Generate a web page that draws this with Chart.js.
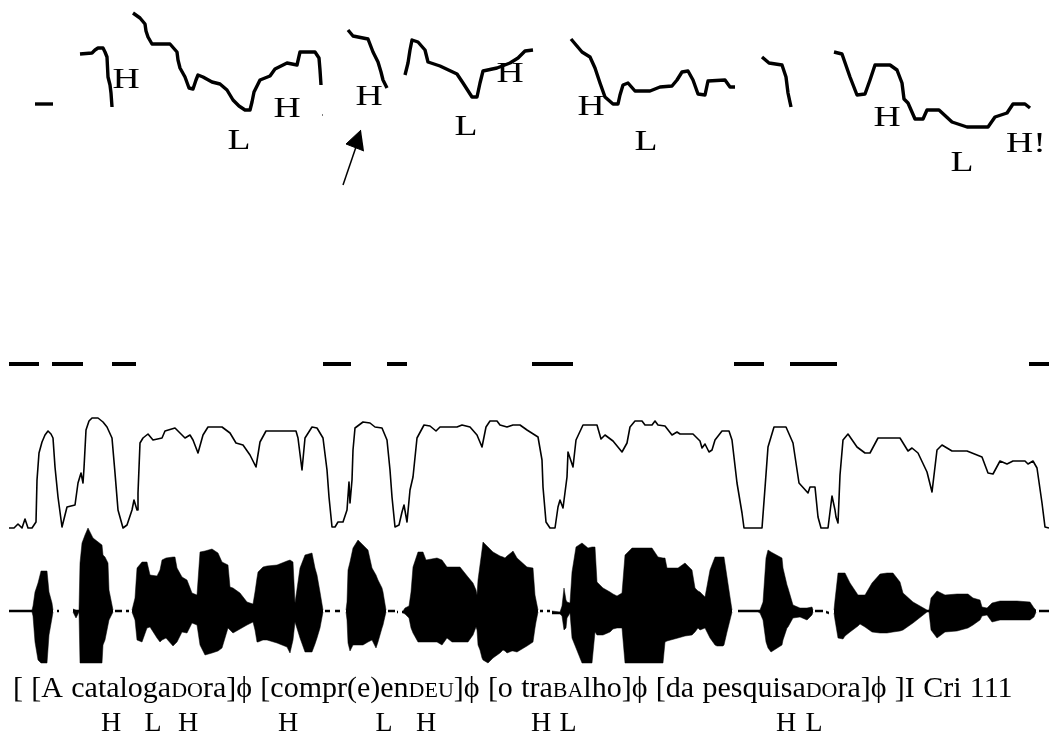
<!DOCTYPE html>
<html>
<head>
<meta charset="utf-8">
<style>
  html, body { margin: 0; padding: 0; background: #fff; }
  canvas { display: block; }
</style>
<script src="https://cdn.jsdelivr.net/npm/chart.js@4"></script>
</head>
<body>
<canvas id="prosody" width="1049" height="736"></canvas>
<script>
/*------------------------ pitch track ---------------------------*/
const pitchLeft = [[35, 104], [53, 104]];
const pitch1 = [[80,54],[92,53],[95,50],[98,48],[103,48],[105,52],[107,57],[108,77],[110,85],[111,93],[112,107]];
const pitch2 = [[133,13],[140,18],[145,24],[146,31],[148,37],[152,44],[170,44],[177,52],[178,60],[180,68],[185,77],[189,88],[193,89],[196,80],[198,75],[203,77],[212,82],[220,84],[227,90],[233,100],[239,106],[245,110],[250,110],[252,102],[254,92],[260,80],[270,76],[275,69],[287,63],[297,65],[300,52],[315,52],[319,58],[320,70],[321,85]];
const pitch3 = [[348,30],[353,36],[368,39],[373,52],[378,62],[381,72],[383,80],[387,88]];
const pitch4 = [[405,75],[408,63],[410,50],[412,40],[418,42],[425,50],[428,62],[440,66],[457,74],[463,83],[472,97],[477,97],[480,83],[483,71],[497,68],[510,63],[518,58],[525,51],[533,50]];
const pitch5 = [[571,39],[582,52],[590,57],[595,68],[600,83],[605,97],[613,104],[618,104],[620,95],[623,85],[628,83],[635,91],[650,91],[660,87],[672,86],[677,80],[682,72],[688,71],[693,80],[698,94],[705,95],[708,81],[725,80],[730,87],[735,87]];
const pitch6 = [[762,57],[769,63],[782,65],[786,77],[788,93],[791,107]];
const pitch7 = [[834,52],[842,54],[850,77],[857,95],[865,94],[870,80],[875,65],[890,65],[897,70],[902,83],[904,99],[908,103],[915,119],[923,119],[927,110],[939,110],[952,122],[967,127],[988,127],[995,117],[1007,113],[1013,104],[1025,104],[1030,108]];
const pitchSpeck = [[322,115],[323,115]];

const toneNames = ["H", "H", "L", "H", "L", "H", "H", "L", "H", "L", "H!"];
const toneX = [126, 287, 239, 369, 466, 510, 591, 646, 887, 962, 1026];
const toneY = [78, 107, 139, 95, 125, 72, 105, 140, 116, 161, 142];

const arrowShaft = [[343,185],[356,147]];
const arrowHead = [[361,130],[346,144],[364,151]];

/*------------------------ voicing dashes ------------------------*/
const dashStart = [9, 52, 112, 323, 387, 532, 734, 790, 1029];
const dashEnd = [39, 83, 136, 351, 407, 573, 764, 837, 1049];
const dashY = 364;

/*------------------------ amplitude contour ---------------------*/
const envelope = [[9,528],[14,528],[18,524],[22,528],[25,519],[28,528],[32,528],[36,522],[37,480],[39,453],[42,442],[45,435],[48,431],[51,434],[53,438],[55,467],[58,497],[62,527],[67,507],[75,505],[78,483],[81,473],[83,483],[84,468],[86,430],[89,421],[92,418],[98,418],[103,422],[107,427],[112,438],[115,473],[118,510],[123,528],[127,525],[132,510],[134,500],[137,510],[138,493],[140,443],[143,438],[148,434],[153,440],[162,438],[165,431],[175,428],[185,438],[190,435],[193,440],[198,453],[203,435],[208,427],[222,427],[230,433],[236,443],[243,445],[250,455],[256,467],[260,442],[266,431],[296,431],[298,438],[302,470],[305,438],[312,427],[317,428],[323,438],[327,470],[329,497],[332,527],[335,527],[338,522],[343,522],[347,510],[349,482],[350,503],[352,480],[353,450],[355,428],[363,422],[370,423],[375,427],[382,428],[387,440],[390,470],[392,497],[395,527],[399,525],[402,512],[404,505],[407,522],[410,490],[413,477],[417,438],[424,425],[430,426],[436,431],[440,427],[457,427],[462,425],[470,427],[477,435],[482,447],[486,427],[490,421],[497,421],[500,425],[507,427],[513,425],[520,425],[527,430],[538,437],[542,460],[543,487],[546,522],[550,528],[555,528],[558,507],[560,500],[563,508],[567,477],[568,452],[573,467],[576,440],[583,425],[597,425],[601,439],[605,435],[613,441],[622,452],[627,443],[630,427],[635,421],[642,421],[645,425],[652,425],[655,421],[658,425],[665,426],[672,435],[677,432],[680,434],[693,434],[700,441],[702,448],[705,444],[709,452],[712,450],[715,440],[722,431],[729,431],[732,440],[737,483],[742,513],[744,528],[762,528],[765,488],[768,447],[774,427],[786,427],[793,443],[799,483],[808,493],[810,487],[815,487],[818,517],[821,528],[828,528],[832,496],[835,510],[836,517],[838,523],[840,475],[843,440],[848,434],[857,447],[865,453],[870,453],[878,438],[900,438],[908,451],[912,448],[918,453],[927,472],[932,492],[937,450],[942,445],[952,451],[967,451],[982,457],[988,473],[993,474],[1000,461],[1007,464],[1013,461],[1025,461],[1028,464],[1033,461],[1037,468],[1042,503],[1045,527],[1049,528]];

/*------------------------ waveform: [x, top, bottom] -------------*/
const wave = [
  [9,610,612],[32,610,612],[33,606,616],[35,592,642],[38,583,660],[41,571,663],[47,571,663],[49,592,635],[52,603,618],[53,610,612],[54,null,null],
  [57,610,612],[59,610,612],[60,null,null],
  [73,609,612],[76,610,618],[79,610,612],[80,563,663],[82,543,663],[85,535,663],[88,528,663],[93,538,663],[102,545,663],[103,555,645],[105,557,640],[108,563,625],[109,590,620],[113,610,612],[114,null,null],
  [115,610,612],[122,610,612],[123,null,null],[126,610,612],[129,610,612],[130,null,null],
  [132,610,612],[135,598,620],[137,568,640],[142,562,642],[147,562,628],[150,575,627],[157,576,638],[160,570,642],[162,560,640],[166,558,638],[173,557,646],[175,557,644],[177,568,642],[182,577,632],[187,580,633],[192,593,623],[197,595,625],[200,552,645],[205,551,655],[212,549,653],[218,553,651],[222,562,648],[228,565,628],[230,587,630],[233,588,633],[240,593,629],[247,602,625],[253,604,622],[255,592,630],[257,578,642],[258,572,642],[263,567,640],[267,566,640],[277,565,643],[287,561,647],[290,560,653],[293,562,640],[295,603,622],[300,568,638],[305,555,652],[312,553,652],[315,568,644],[317,575,638],[320,592,628],[323,610,612],[324,null,null],
  [325,610,612],[330,610,612],[331,null,null],[335,610,612],[340,610,612],[341,null,null],
  [346,610,612],[347,602,620],[348,570,643],[350,562,651],[353,548,645],[358,540,645],[363,545,645],[368,550,642],[372,568,640],[376,575,648],[378,580,642],[382,588,628],[383,592,625],[386,610,612],[387,null,null],
  [388,610,612],[395,610,612],[396,null,null],[397,611,613],[398,611,613],[399,null,null],[402,611,613],[403,611,613],
  [405,608,614],[409,606,618],[411,592,628],[413,567,633],[418,552,642],[423,552,642],[426,560,642],[437,558,642],[442,560,645],[447,567,638],[452,567,642],[460,567,642],[468,577,642],[473,583,635],[476,590,627],[477,595,630],[478,580,645],[480,565,650],[482,550,658],[483,542,660],[488,547,663],[493,552,658],[500,556,653],[503,557,650],[505,558,651],[507,556,653],[512,552,651],[513,551,651],[517,558,652],[527,567,646],[533,568,642],[535,595,628],[536,600,622],[538,610,612],[539,null,null],
  [540,610,612],[543,610,612],[544,null,null],[547,610,612],[550,610,612],[551,null,null],[552,611,614],[560,612,614],
  [562,606,616],[564,588,630],[566,600,628],[567,602,618],[570,603,613],[572,572,638],[576,547,648],[582,543,663],[588,548,663],[592,547,663],[595,547,632],[597,582,635],[603,588,635],[610,592,632],[613,594,629],[617,596,628],[622,593,628],[625,555,663],[632,548,663],[652,548,663],[658,557,663],[663,558,663],[665,558,642],[667,568,641],[678,568,638],[685,563,636],[692,570,635],[695,588,632],[698,591,628],[700,592,630],[705,597,628],[710,570,638],[715,557,645],[717,557,646],[723,557,646],[724,557,645],[727,577,632],[730,597,620],[732,610,612],[733,null,null],
  [738,610,612],[758,610,612],[760,610,613],[763,602,620],[766,558,642],[768,550,648],[771,552,652],[782,558,645],[783,568,640],[787,585,628],[788,588,627],[793,605,618],[800,608,617],[807,608,620],[812,607,615],[813,610,612],[814,null,null],
  [815,610,612],[823,610,612],[824,null,null],[826,611,613],[829,612,614],[830,null,null],
  [834,610,613],[835,600,620],[838,573,638],[843,573,639],[845,573,636],[850,583,632],[858,595,626],[860,595,624],[865,595,627],[872,583,632],[880,574,633],[887,573,633],[893,573,632],[900,582,631],[903,593,630],[913,602,623],[927,610,612],
  [929,610,612],[931,598,630],[937,591,638],[945,595,632],[957,594,631],[968,594,628],[973,598,625],[980,600,620],[982,607,616],[987,608,615],[992,603,622],[1000,601,620],[1017,601,620],[1030,602,620],[1034,608,617],[1036,610,612],[1037,null,null],
  [1039,610,612],[1049,610,612]
];
const waveX = wave.map(function (r) { return r[0]; });
const waveTop = wave.map(function (r) { return r[1]; });
const waveBottom = wave.map(function (r) { return r[2]; });

/*------------------------ transcription --------------------------*/
const lineRuns = [
  ["[ [A cataloga", false], ["DO", true], ["ra]\u03D5 [compr(e)en", false], ["DEU", true],
  ["]\u03D5 [o tra", false], ["BA", true], ["lho]\u03D5 [da pesquisa", false], ["DO", true], ["ra]\u03D5 ]I Cri 111", false]
];
const lineX = 13;
const lineY = 697;
const gridTones = ["H", "L", "H", "H", "L", "H", "H", "L", "H", "L"];
const gridX = [111, 153, 188, 288, 384, 426, 541, 568, 786, 814];
const gridY = 731;

function pts(list) {
    return list.map(function (p) { return { x: p[0], y: p[1] }; });
}

function trace(list, width) {
    return {
        data: pts(list),
        borderColor: "#000",
        borderWidth: width,
        pointRadius: 0,
        borderJoinStyle: "round",
        borderCapStyle: "butt",
        fill: false,
        tension: 0
    };
}

const datasets = [];
[pitchLeft, pitch1, pitch2, pitch3, pitch4, pitch5, pitch6, pitch7].forEach(function (seg) {
    datasets.push(trace(seg, 3.4));
});
datasets.push(trace(pitchSpeck, 1));
datasets.push(trace(arrowShaft, 1.5));
datasets.push(Object.assign(trace(arrowHead, 1), { fill: "shape", backgroundColor: "#000" }));
dashStart.forEach(function (s, i) {
    datasets.push(trace([[s, dashY], [dashEnd[i], dashY]], 4));
});
datasets.push(trace(envelope, 1.6));

// the two waveform edges, filled between
datasets.push({
    data: waveX.map(function (x, i) { return { x: x, y: waveTop[i] }; }),
    borderColor: "#000", borderWidth: 0.5, pointRadius: 0, tension: 0,
    backgroundColor: "#000", fill: "+1", spanGaps: false
});
datasets.push({
    data: waveX.map(function (x, i) { return { x: x, y: waveBottom[i] }; }),
    borderColor: "#000", borderWidth: 0.5, pointRadius: 0, tension: 0,
    fill: false, spanGaps: false
});

const textLabels = {
    id: "textLabels",
    afterDatasetsDraw(chart) {
        const { ctx, scales } = chart;
        ctx.save();
        ctx.fillStyle = "#000";
        ctx.textBaseline = "alphabetic";

        // tone letters over the pitch track, wider than the plain face
        ctx.font = "29px 'Liberation Serif'";
        ctx.textAlign = "center";
        toneNames.forEach(function (t, i) {
            ctx.save();
            ctx.translate(scales.x.getPixelForValue(toneX[i]), scales.y.getPixelForValue(toneY[i]) + 10);
            ctx.scale(1.3, 1);
            ctx.fillText(t, 0, 0);
            ctx.restore();
        });

        // sentence line with small capitals
        ctx.textAlign = "left";
        ctx.wordSpacing = "0.8px";
        let x = scales.x.getPixelForValue(lineX);
        lineRuns.forEach(function (run) {
            ctx.font = (run[1] ? "22px" : "30px") + " 'Liberation Serif'";
            ctx.fillText(run[0], x, scales.y.getPixelForValue(lineY));
            x += ctx.measureText(run[0]).width;
        });
        ctx.wordSpacing = "0px";

        // tones under the sentence
        ctx.font = "28px 'Liberation Serif'";
        ctx.textAlign = "center";
        gridTones.forEach(function (t, i) {
            ctx.fillText(t, scales.x.getPixelForValue(gridX[i]), scales.y.getPixelForValue(gridY));
        });
        ctx.restore();
    }
};

new Chart(document.getElementById("prosody"), {
    type: "line",
    data: { datasets: datasets },
    options: {
        responsive: false,
        animation: false,
        layout: { padding: 0 },
        plugins: {
            legend: { display: false },
            tooltip: { enabled: false }
        },
        scales: {
            x: { type: "linear", min: 0, max: 1049, display: false },
            y: { type: "linear", min: 0, max: 736, reverse: true, display: false }
        }
    },
    plugins: [textLabels]
});
</script>
</body>
</html>
